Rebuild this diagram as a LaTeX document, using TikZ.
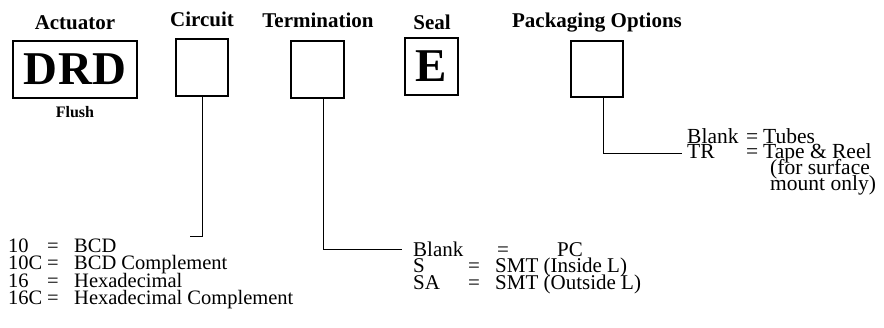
\documentclass[tikz,border=0pt]{standalone}
\usepackage{fontspec}
\setmainfont{Liberation Serif}
\begin{document}
\begin{tikzpicture}[x=1pt,y=-1pt,
  hdr/.style={font=\fontsize{21}{21}\selectfont\bfseries, anchor=base, inner sep=0pt},
  body/.style={font=\fontsize{21}{21}\selectfont, anchor=base west, inner sep=0pt, text height=13pt, text depth=3pt},
  lbody/.style={body, font=\fontsize{20.5}{20.5}\selectfont},
  pbody/.style={body, font=\fontsize{21.5}{21.5}\selectfont},
  pbox/.style={draw, line width=2pt, inner sep=0pt},
  big/.style={font=\fontsize{47}{47}\selectfont\bfseries},
  conn/.style={line width=1pt}]
\useasboundingbox (0,0) rectangle (884,327);
% headers
\node[hdr] (hact) at (75,29) {Actuator};
\node[hdr] (hcir) at (202,26) {Circuit};
\node[hdr] (hter) at (318,27) {Termination};
\node[hdr] (hsea) at (432,29) {Seal};
\node[hdr] (hpac) at (597,27) {Packaging Options};
% boxes
\node[pbox, big, minimum width=124pt, minimum height=57pt] (drd) at (75,69.5) {D\kern1ptR\kern1ptD};
\node[pbox, minimum width=52pt, minimum height=57pt] (cir) at (202,67.5) {};
\node[pbox, minimum width=53pt, minimum height=57pt] (ter) at (317.5,69.5) {};
\node[pbox, big, minimum width=53pt, minimum height=57pt] (sea) at (431.5,66.5) {E};
\node[pbox, minimum width=52pt, minimum height=56pt] (pac) at (597,69) {};
\node[hdr, font=\fontsize{16}{16}\selectfont\bfseries] (flush) at (75,117) {Flush};
% connector ends
\coordinate (cend) at (190,236);
\coordinate (tend) at (402,249);
\coordinate (pend) at (682,153);
\draw[conn] (cir.south) |- (cend);
\draw[conn] ([xshift=5.5pt]ter.south) |- (tend);
\draw[conn] ([xshift=6pt]pac.south) |- (pend);
% circuit list
\node[lbody] (c1a) at (8,252) {10};
\node[lbody] (c1b) at (47,252) {=};
\node[lbody] (c1c) at (74,252) {BCD};
\node[lbody] (c2a) at (8,269.5) {10C};
\node[lbody] (c2b) at (47,269.5) {=};
\node[lbody] (c2c) at (74,269.5) {BCD Complement};
\node[lbody] (c3a) at (8,287) {16};
\node[lbody] (c3b) at (47,287) {=};
\node[lbody] (c3c) at (74,287) {Hexadecimal};
\node[lbody] (c4a) at (8,304.5) {16C};
\node[lbody] (c4b) at (47,304.5) {=};
\node[lbody] (c4c) at (74,304.5) {Hexadecimal Complement};
% termination list
\node[body] (t1a) at (413,256) {Blank};
\node[body] (t1b) at (497,256) {=};
\node[body] (t1c) at (557,256) {PC};
\node[body] (t2a) at (413,272.5) {S};
\node[body] (t2b) at (468,272.5) {=};
\node[body] (t2c) at (495,272.5) {SMT (Inside L)};
\node[body] (t3a) at (413,289) {SA};
\node[body] (t3b) at (468,289) {=};
\node[body] (t3c) at (495,289) {SMT (Outside L)};
% packaging list
\node[pbody] (p1a) at (687,143) {Blank};
\node[pbody] (p1b) at (746,143) {=};
\node[pbody] (p1c) at (763,143) {Tubes};
\node[pbody] (p2a) at (687,158.7) {TR};
\node[pbody] (p2b) at (746,158.7) {=};
\node[pbody] (p2c) at (763,158.7) {Tape \& Reel};
\node[pbody] (p3) at (770,174.4) {(for surface};
\node[pbody] (p4) at (770,190) {mount only)};
\end{tikzpicture}
\end{document}
